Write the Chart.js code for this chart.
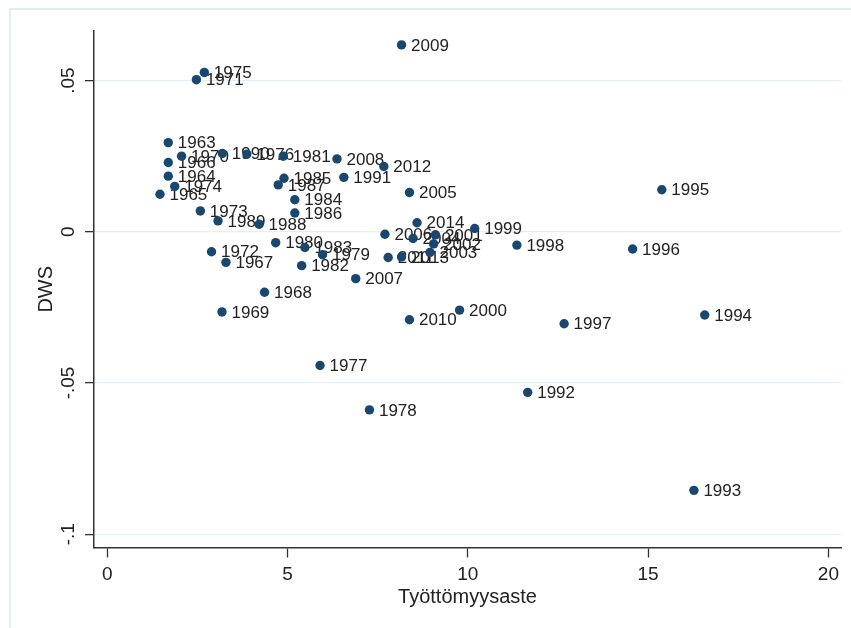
<!DOCTYPE html>
<html><head><meta charset="utf-8">
<script src="https://cdn.jsdelivr.net/npm/chart.js@4/dist/chart.umd.min.js"></script>
<style>html,body{margin:0;padding:0;background:#fff}#wrap{width:851px;height:628px;position:relative}</style>
</head><body><div id="wrap"><canvas id="c" width="851" height="628"></canvas></div>
<script>
const years = [1963,1964,1965,1966,1967,1968,1969,1970,1971,1972,1973,1974,1975,1976,1977,1978,1979,1980,1981,1982,1983,1984,1985,1986,1987,1988,1989,1990,1991,1992,1993,1994,1995,1996,1997,1998,1999,2000,2001,2002,2003,2004,2005,2006,2007,2008,2009,2010,2011,2012,2013,2014];
const unemployment = [1.69,1.69,1.46,1.69,3.29,4.36,3.18,2.06,2.47,2.89,2.58,1.87,2.69,3.87,5.90,7.27,5.97,4.67,4.88,5.39,5.48,5.20,4.90,5.20,4.74,4.21,3.07,3.19,6.56,11.66,16.27,16.57,15.38,14.57,12.67,11.36,10.19,9.77,9.10,9.05,8.95,8.48,8.38,7.70,6.89,6.37,8.16,8.38,7.79,7.67,8.16,8.59];
const dws = [0.0295,0.0184,0.0124,0.0229,-0.0101,-0.0200,-0.0265,0.0250,0.0503,-0.0066,0.0069,0.0150,0.0527,0.0257,-0.0442,-0.0589,-0.0076,-0.0036,0.0250,-0.0112,-0.0052,0.0106,0.0177,0.0062,0.0155,0.0025,0.0036,0.0259,0.0180,-0.0531,-0.0855,-0.0275,0.0139,-0.0057,-0.0304,-0.0044,0.0011,-0.0259,-0.0010,-0.0040,-0.0068,-0.0022,0.0130,-0.0008,-0.0155,0.0241,0.0618,-0.0291,-0.0085,0.0216,-0.0083,0.0030];
const xTicks = [0,5,10,15,20];
const yTicks = [-0.1,-0.05,0,0.05];
const yTickLabels = ['-.1','-.05','0','.05'];
const xTitle = 'Työttömyysaste';
const yTitle = 'DWS';

const FONT = '"Liberation Sans", Arial, sans-serif';
const NAVY = '#1a476f';
const TEXT = '#222222';

const framePlugin = {
  id: 'frame',
  beforeDraw(chart) {
    const ctx = chart.ctx;
    ctx.save();
    ctx.fillStyle = '#ffffff';
    ctx.fillRect(0, 0, chart.width, chart.height);
    ctx.strokeStyle = '#e4ecef';
    ctx.lineWidth = 2;
    ctx.beginPath();
    ctx.moveTo(10, chart.height);
    ctx.lineTo(10, 9);
    ctx.lineTo(chart.width, 9);
    ctx.stroke();
    ctx.restore();
  }
};

const labelPlugin = {
  id: 'pointLabels',
  beforeDatasetsDraw(chart) {
    const ctx = chart.ctx;
    const meta = chart.getDatasetMeta(0);
    ctx.save();
    ctx.font = '17px ' + FONT;
    ctx.fillStyle = TEXT;
    ctx.textAlign = 'left';
    ctx.textBaseline = 'middle';
    meta.data.forEach((pt, i) => {
      ctx.fillText(String(years[i]), pt.x + 9.5, pt.y + 1);
    });
    ctx.restore();
  },
  afterDraw(chart) {
    const ctx = chart.ctx;
    const ys = chart.scales.y;
    ctx.save();
    ctx.font = '19px ' + FONT;
    ctx.fillStyle = TEXT;
    ctx.textAlign = 'center';
    ctx.textBaseline = 'middle';
    yTicks.forEach((v, i) => {
      const py = ys.getPixelForValue(v);
      ctx.save();
      ctx.translate(69, py);
      ctx.rotate(-Math.PI / 2);
      ctx.fillText(yTickLabels[i], 0, 0);
      ctx.restore();
    });
    ctx.restore();
  }
};

new Chart(document.getElementById('c').getContext('2d'), {
  type: 'scatter',
  data: {
    datasets: [{
      data: unemployment.map((x, i) => ({x: x, y: dws[i]})),
      backgroundColor: NAVY,
      borderWidth: 0,
      pointRadius: 4.7,
      pointHoverRadius: 4.7
    }]
  },
  options: {
    responsive: false,
    animation: false,
    devicePixelRatio: 1,
    layout: {padding: {left: 0, top: 31, right: 10, bottom: 0}},
    plugins: {legend: {display: false}, tooltip: {enabled: false}},
    scales: {
      x: {
        type: 'linear', min: -0.37, max: 20.35,
        afterBuildTicks: s => { s.ticks = xTicks.map(v => ({value: v})); },
        afterFit: s => { s.height = 80.5; },
        grid: {drawOnChartArea: false, tickLength: 10, tickColor: '#333', tickWidth: 1.3},
        border: {color: '#333', width: 1.5},
        ticks: {font: {family: FONT, size: 19}, color: TEXT, padding: 6, maxRotation: 0, minRotation: 0, autoSkip: false},
        title: {display: true, text: xTitle, color: TEXT, font: {family: FONT, size: 20}, padding: {top: 0, bottom: 19}}
      },
      y: {
        type: 'linear', min: -0.1044, max: 0.0664,
        afterBuildTicks: s => { s.ticks = yTicks.map(v => ({value: v})); },
        afterFit: s => { s.width = 94; },
        grid: {color: '#e6eef2', lineWidth: 1.3, tickColor: '#333', tickLength: 9, tickWidth: 1.3},
        border: {color: '#333', width: 1.5},
        ticks: {display: false},
        title: {display: true, text: yTitle, color: TEXT, font: {family: FONT, size: 20}, padding: {top: 34, bottom: 0}}
      }
    }
  },
  plugins: [framePlugin, labelPlugin]
});
</script>
</body></html>
